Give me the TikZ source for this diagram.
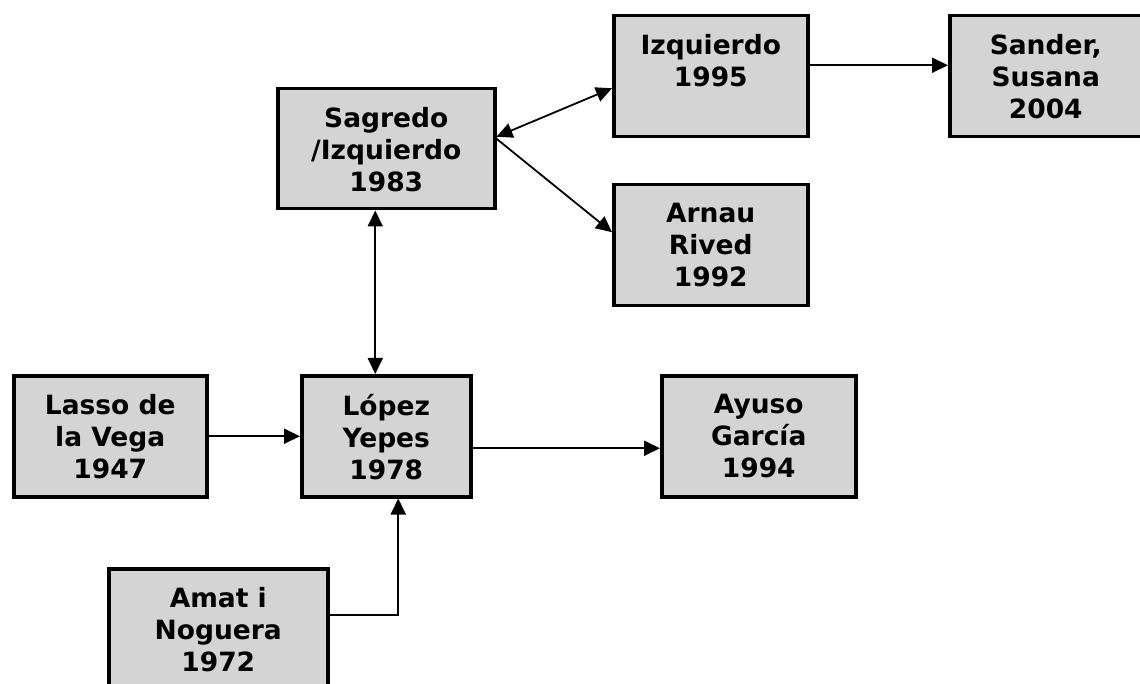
\documentclass[tikz,border=0pt]{standalone}
\usepackage{fontspec}
\setmainfont{DejaVu Sans}
\usetikzlibrary{arrows.meta,calc}
\definecolor{boxgray}{RGB}{212,212,212}
\begin{document}
\begin{tikzpicture}[x=1pt,y=-1pt,
  box/.style={draw=black,line width=3.5pt,fill=boxgray,inner sep=0pt,anchor=north west},
  lbl/.style={anchor=north,align=center,inner sep=0pt,font=\bfseries\fontsize{26.5}{32}\selectfont},
  arr/.style={line width=1.8pt,-{Triangle[length=16pt,width=15pt]}},
  dbl/.style={line width=1.8pt,{Triangle[length=16pt,width=15pt]}-{Triangle[length=16pt,width=15pt]}}]
\useasboundingbox (0,0) rectangle (1140,684);
\clip (0,0) rectangle (1140,684);
% boxes
\node[box,minimum width=193pt,minimum height=121pt] (lasso) at (12,374) {};
\node[box,minimum width=169pt,minimum height=121pt] (lopez) at (300,374) {};
\node[box,minimum width=194pt,minimum height=121pt] (ayuso) at (660,374) {};
\node[box,minimum width=217pt,minimum height=120pt] (sagredo) at (276,87) {};
\node[box,minimum width=194pt,minimum height=121pt] (izq) at (612,14) {};
\node[box,minimum width=194pt,minimum height=121pt] (arnau) at (612,183) {};
\node[box,minimum width=196pt,minimum height=121pt] (sander) at (948,14) {};
\node[box,minimum width=219pt,minimum height=140pt] (amat) at (107,567) {};
% texts
\node[lbl] (lasso-t) at ($(lasso.north)+(0,20)$) {Lasso de\\la Vega\\1947};
\node[lbl] (lopez-t) at ($(lopez.north)+(0,20)$) {López\\Yepes\\1978};
\node[lbl] (ayuso-t) at ($(ayuso.north)+(0,20)$) {Ayuso\\García\\1994};
\node[lbl] (sagredo-t) at ($(sagredo.north)+(0,20)$) {Sagredo\\/Izquierdo\\1983};
\node[lbl] (izq-t) at ($(izq.north)+(0,20)$) {Izquierdo\\1995};
\node[lbl] (arnau-t) at ($(arnau.north)+(0,20)$) {Arnau\\Rived\\1992};
\node[lbl] (sander-t) at ($(sander.north)+(-2,20)$) {Sander,\\Susana\\2004};
\node[lbl] (amat-t) at ($(amat.north)+(0,20)$) {Amat i\\Noguera\\1972};
% connectors
\draw[arr] (lasso.east) -- (lasso.east -| lopez.west);
\coordinate (p1) at ($(lopez.east)+(0,12)$);
\draw[arr] (p1) -- (p1 -| ayuso.west);
\draw[dbl] ($(sagredo.south)+(-11,0)$) -- ($(lopez.north)+(-11,0)$);
\draw[dbl] ($(sagredo.east)+(0,-12)$) -- ($(izq.west)+(0,12)$);
\draw[arr] ($(sagredo.east)+(0,-10)$) -- ($(arnau.west)+(0,-13)$);
\coordinate (p2) at ($(izq.east)+(0,-11)$);
\draw[arr] (p2) -- (p2 -| sander.west);
\draw[arr] ($(amat.north east)+(0,48)$) -| ($(lopez.south)+(12,0)$);
\end{tikzpicture}
\end{document}
